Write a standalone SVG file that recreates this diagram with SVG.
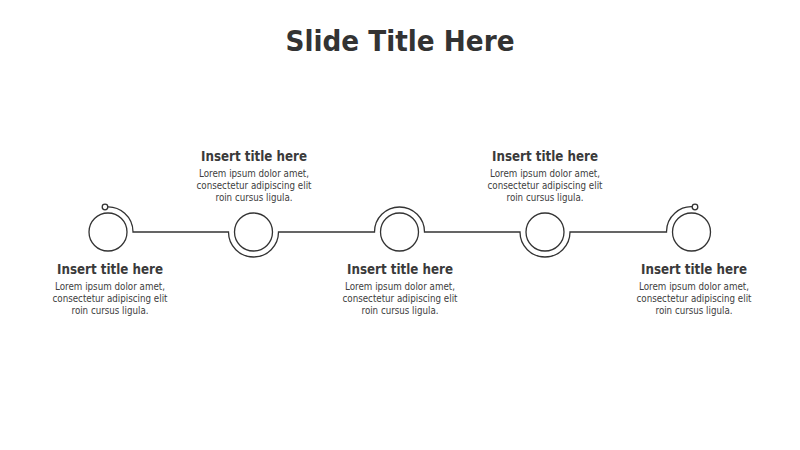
<svg xmlns="http://www.w3.org/2000/svg" width="800" height="450" viewBox="0 0 800 450">
<style>
.ring{fill:none;stroke:#333333;stroke-width:1.3}
.conn{fill:none;stroke:#333333;stroke-width:1.3}
.dot{fill:#ffffff;stroke:#333333;stroke-width:1.3}
.h{font-family:"DejaVu Sans",Verdana,sans-serif;font-weight:bold;font-size:13.5px;fill:#3a3a3a;text-anchor:middle}
.b{font-family:"DejaVu Sans",Verdana,sans-serif;font-size:10px;fill:#404040;text-anchor:middle}
.t{font-family:"DejaVu Sans",Verdana,sans-serif;font-weight:bold;font-size:29px;fill:#333333;text-anchor:middle}
</style>
<rect width="800" height="450" fill="#ffffff"/>
<text class="t" x="400" y="51" textLength="229" lengthAdjust="spacingAndGlyphs">Slide Title Here</text>
<g id="connectors">
<path class="conn" d="M105 207 A25 25 0 0 1 133 232 L228.5 232 A25 25 0 0 0 278.5 232 L374.5 232 A25 25 0 0 1 424.5 232 L520 232 A25 25 0 0 0 570 232 L666.5 232 A25 25 0 0 1 695 207"/>
<circle class="dot" cx="105" cy="207" r="2.8"/>
<circle class="dot" cx="695" cy="207" r="2.8"/>
</g>
<g id="node1">
<circle class="ring" cx="108" cy="232" r="19"/>
<text class="h" x="110" y="274" textLength="106" lengthAdjust="spacingAndGlyphs">Insert title here</text>
<text class="b" x="110" y="290" textLength="110" lengthAdjust="spacingAndGlyphs">Lorem ipsum dolor amet,</text>
<text class="b" x="110" y="302" textLength="115" lengthAdjust="spacingAndGlyphs">consectetur adipiscing elit</text>
<text class="b" x="110" y="313.5" textLength="77" lengthAdjust="spacingAndGlyphs">roin cursus ligula.</text>
</g>
<g id="node2">
<circle class="ring" cx="253.5" cy="232" r="19"/>
<text class="h" x="254" y="161" textLength="106" lengthAdjust="spacingAndGlyphs">Insert title here</text>
<text class="b" x="254" y="177" textLength="110" lengthAdjust="spacingAndGlyphs">Lorem ipsum dolor amet,</text>
<text class="b" x="254" y="189" textLength="115" lengthAdjust="spacingAndGlyphs">consectetur adipiscing elit</text>
<text class="b" x="254" y="200.5" textLength="77" lengthAdjust="spacingAndGlyphs">roin cursus ligula.</text>
</g>
<g id="node3">
<circle class="ring" cx="399.5" cy="232" r="19"/>
<text class="h" x="400" y="274" textLength="106" lengthAdjust="spacingAndGlyphs">Insert title here</text>
<text class="b" x="400" y="290" textLength="110" lengthAdjust="spacingAndGlyphs">Lorem ipsum dolor amet,</text>
<text class="b" x="400" y="302" textLength="115" lengthAdjust="spacingAndGlyphs">consectetur adipiscing elit</text>
<text class="b" x="400" y="313.5" textLength="77" lengthAdjust="spacingAndGlyphs">roin cursus ligula.</text>
</g>
<g id="node4">
<circle class="ring" cx="545" cy="232" r="19"/>
<text class="h" x="545" y="161" textLength="106" lengthAdjust="spacingAndGlyphs">Insert title here</text>
<text class="b" x="545" y="177" textLength="110" lengthAdjust="spacingAndGlyphs">Lorem ipsum dolor amet,</text>
<text class="b" x="545" y="189" textLength="115" lengthAdjust="spacingAndGlyphs">consectetur adipiscing elit</text>
<text class="b" x="545" y="200.5" textLength="77" lengthAdjust="spacingAndGlyphs">roin cursus ligula.</text>
</g>
<g id="node5">
<circle class="ring" cx="691.5" cy="232" r="19"/>
<text class="h" x="694" y="274" textLength="106" lengthAdjust="spacingAndGlyphs">Insert title here</text>
<text class="b" x="694" y="290" textLength="110" lengthAdjust="spacingAndGlyphs">Lorem ipsum dolor amet,</text>
<text class="b" x="694" y="302" textLength="115" lengthAdjust="spacingAndGlyphs">consectetur adipiscing elit</text>
<text class="b" x="694" y="313.5" textLength="77" lengthAdjust="spacingAndGlyphs">roin cursus ligula.</text>
</g>
</svg>
